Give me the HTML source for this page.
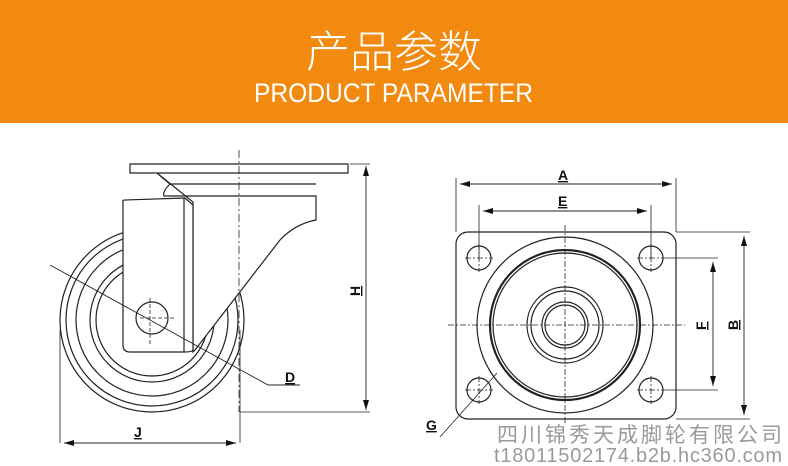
<!DOCTYPE html>
<html><head><meta charset="utf-8"><style>
body{margin:0;width:788px;height:466px;overflow:hidden;background:#fff;font-family:"Liberation Sans","Noto Sans CJK SC",sans-serif}
.hdr{position:absolute;left:0;top:0;width:788px;height:123px;background:#F18A0E}
.cn{position:absolute;left:0;width:788px;top:22px;text-align:center;color:#fff;font-size:44px;font-weight:300;font-family:"Noto Sans CJK SC",sans-serif;line-height:52px}
svg{position:absolute;left:0;top:0}
</style></head><body>
<div class="hdr"></div>
<div class="cn">产品参数</div>
<svg width="788" height="466" viewBox="0 0 788 466">
<defs><marker id="ar" markerWidth="10" markerHeight="6" refX="10" refY="3" orient="auto-start-reverse" markerUnits="userSpaceOnUse"><path d="M0,0 L10,3 L0,6z" fill="#111"/></marker></defs>
<text x="254" y="102" font-family="Liberation Sans,sans-serif" font-size="27" fill="#fff" textLength="279" lengthAdjust="spacingAndGlyphs">PRODUCT PARAMETER</text>
<g fill="none" stroke="#222" stroke-width="1.2">
<!-- left caster -->
<circle cx="152" cy="320" r="92"/><circle cx="152" cy="320" r="86"/><circle cx="152" cy="320" r="76"/><circle cx="152" cy="320" r="62"/><circle cx="152" cy="320" r="56"/>
<path d="M130,164 H348 V173 H130 Z" fill="#fff"/>
<path d="M157,173 Q165,180 170,184 Q162,192 164,196 L316,196 V220 Q295,224 280,240 L195,350 L193,352 V202 Z" fill="#fff"/>
<path d="M170,184 H316"/>
<path d="M123,202 Q122,200 125,200 L185,198 L193,205 V350 Q192,352 185,352 H130 Q123,352 123,345 Z" fill="#fff"/>
<path d="M184,198 V352"/>
<circle cx="152" cy="318" r="16"/>
<path d="M60,330 V443 M240,330 V443 M240,412 H370 M350,164 H370" stroke-width="0.8"/>
<path d="M239,150 V412" stroke-dasharray="8,3,2,3" stroke-width="0.8"/>
<path d="M140,318 H175 M150,298 V345" stroke-dasharray="4,2" stroke-width="0.8"/>
<path d="M50,265 L268,385 H300" stroke-width="0.9"/>
<line x1="64" y1="443" x2="236" y2="443" marker-start="url(#ar)" marker-end="url(#ar)" stroke-width="0.9"/>
<line x1="366" y1="166" x2="366" y2="410" marker-start="url(#ar)" marker-end="url(#ar)" stroke-width="0.9"/>
<!-- right plate -->
<rect x="456" y="232" width="220" height="187" rx="12"/>
<circle cx="565" cy="325" r="88"/><circle cx="565" cy="325" r="75" stroke-width="2.2"/><circle cx="565" cy="325" r="72"/>
<circle cx="565" cy="325" r="38"/><circle cx="565" cy="325" r="34"/><circle cx="565" cy="325" r="23"/><circle cx="565" cy="325" r="20"/>
<circle cx="479" cy="258" r="12"/><circle cx="651" cy="258" r="12"/><circle cx="479" cy="390" r="12"/><circle cx="651" cy="390" r="12"/>
<g stroke-dasharray="6,2,2,2" stroke-width="0.8"><path d="M448,325 H685 M565,225 V425 M465,258 H493 M637,258 H665 M465,390 H493 M637,390 H665 M479,244 V272 M651,244 V272 M479,376 V404 M651,376 V404"/></g>
<path d="M456,178 V232 M676,178 V232 M479,205 V258 M651,205 V258 M676,232 H750 M676,419 H750 M665,258 H718 M665,390 H718" stroke-width="0.8"/>
<line x1="460" y1="184" x2="672" y2="184" marker-start="url(#ar)" marker-end="url(#ar)" stroke-width="0.9"/>
<line x1="483" y1="211" x2="647" y2="211" marker-start="url(#ar)" marker-end="url(#ar)" stroke-width="0.9"/>
<line x1="744" y1="236" x2="744" y2="415" marker-start="url(#ar)" marker-end="url(#ar)" stroke-width="0.9"/>
<line x1="713" y1="262" x2="713" y2="386" marker-start="url(#ar)" marker-end="url(#ar)" stroke-width="0.9"/>
<path d="M440,437 L497,373" stroke-width="0.8"/>
</g>
<g font-family="Liberation Sans,sans-serif" font-weight="bold" font-size="14" fill="#111" text-decoration="underline">
<text x="134" y="437">J</text><text x="285" y="382">D</text>
<text x="558" y="180">A</text><text x="558" y="206">E</text><text x="426" y="430">G</text>
<text transform="translate(360,290) rotate(-90)" x="-6" y="0">H</text>
<text transform="translate(706,324) rotate(-90)" x="-6" y="0">F</text>
<text transform="translate(738,324) rotate(-90)" x="-6" y="0">B</text>
</g>
<g font-family="Liberation Sans,Noto Sans CJK SC,sans-serif" fill="#9a9a9a">
<text x="497" y="442" font-size="21" font-family="Noto Sans CJK SC,sans-serif" textLength="285">四川锦秀天成脚轮有限公司</text>
<text x="494" y="462" font-size="20" textLength="288">t18011502174.b2b.hc360.com</text>
</g>
</svg>
</body></html>
